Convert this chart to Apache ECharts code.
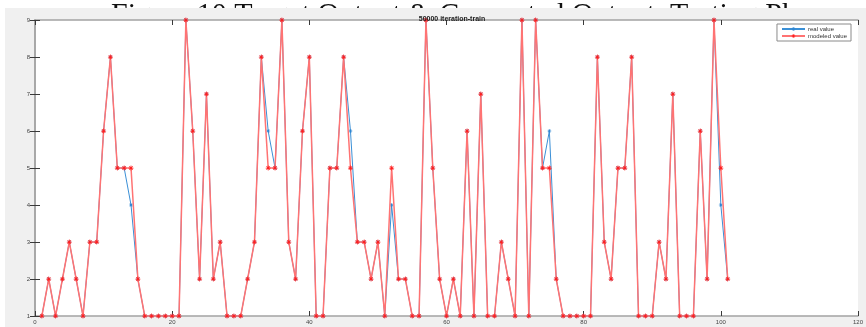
<!DOCTYPE html>
<html>
<head>
<meta charset="utf-8">
<script src="https://cdn.jsdelivr.net/npm/echarts@6/dist/echarts.min.js"></script>
<style>
  html, body { margin: 0; padding: 0; background: #fff; }
  #chart { width: 866px; height: 327px; }
</style>
</head>
<body>
<div id="chart"></div>
<script>
// sample index (x) for every point
const sampleIdx = [
  1, 2, 3, 4, 5, 6, 7, 8, 9, 10,
  11, 12, 13, 14, 15, 16, 17, 18, 19, 20,
  21, 22, 23, 24, 25, 26, 27, 28, 29, 30,
  31, 32, 33, 34, 35, 36, 37, 38, 39, 40,
  41, 42, 43, 44, 45, 46, 47, 48, 49, 50,
  51, 52, 53, 54, 55, 56, 57, 58, 59, 60,
  61, 62, 63, 64, 65, 66, 67, 68, 69, 70,
  71, 72, 73, 74, 75, 76, 77, 78, 79, 80,
  81, 82, 83, 84, 85, 86, 87, 88, 89, 90,
  91, 92, 93, 94, 95, 96, 97, 98, 99, 100,
  101
];

const realValue = [
  1, 2, 1, 2, 3, 2, 1, 3, 3, 6,
  8, 5, 5, 4, 2, 1, 1, 1, 1, 1,
  1, 9, 6, 2, 7, 2, 3, 1, 1, 1,
  2, 3, 8, 6, 5, 9, 3, 2, 6, 8,
  1, 1, 5, 5, 8, 6, 3, 3, 2, 3,
  1, 4, 2, 2, 1, 1, 9, 5, 2, 1,
  2, 1, 6, 1, 7, 1, 1, 3, 2, 1,
  9, 1, 9, 5, 6, 2, 1, 1, 1, 1,
  1, 8, 3, 2, 5, 5, 8, 1, 1, 1,
  3, 2, 7, 1, 1, 1, 6, 2, 9, 4,
  2
];

const modeledValue = [
  1, 2, 1, 2, 3, 2, 1, 3, 3, 6,
  8, 5, 5, 5, 2, 1, 1, 1, 1, 1,
  1, 9, 6, 2, 7, 2, 3, 1, 1, 1,
  2, 3, 8, 5, 5, 9, 3, 2, 6, 8,
  1, 1, 5, 5, 8, 5, 3, 3, 2, 3,
  1, 5, 2, 2, 1, 1, 9, 5, 2, 1,
  2, 1, 6, 1, 7, 1, 1, 3, 2, 1,
  9, 1, 9, 5, 5, 2, 1, 1, 1, 1,
  1, 8, 3, 2, 5, 5, 8, 1, 1, 1,
  3, 2, 7, 1, 1, 1, 6, 2, 9, 5,
  2
];

const seriesNames = ['real value', 'modeled value'];
const chartTitle = '50000 iteration-train';
const caption = 'Figure 10 Target Output & Computed Output, Testing Phase';

// matlab style '*' marker
const star = 'path://M-0.15,-1L0.15,-1L0.15,1L-0.15,1Z M-1,-0.15L1,-0.15L1,0.15L-1,0.15Z ' +
  'M-0.594,-0.806L0.806,0.594L0.594,0.806L-0.806,-0.594Z M-0.806,0.594L0.594,-0.806L0.806,-0.594L-0.594,0.806Z';

const pair = (ys) => sampleIdx.map((x, i) => [x, ys[i]]);

const frame = { show: true, lineStyle: { color: '#a3a3a3', width: 1.5 } };
const tick = { show: true, inside: true, length: 5, lineStyle: { color: '#3a3a3a', width: 1 } };
const lbl = { fontFamily: 'Liberation Sans, Arial, sans-serif', fontSize: 6, color: '#444' };

const chart = echarts.init(document.getElementById('chart'), null, { renderer: 'canvas' });

chart.setOption({
  animation: false,
  backgroundColor: '#fff',
  title: {
    text: chartTitle,
    left: 447, top: 11, textAlign: 'center',
    textStyle: { fontFamily: 'Liberation Sans, Arial, sans-serif', fontSize: 7, fontWeight: 'bold', color: '#222' },
  },
  graphic: [
    // caption of the page, mostly hidden behind the figure
    {
      type: 'text', left: 111, top: 0, z: -20, silent: true,
      style: { text: caption, font: '30px "Liberation Serif", "Times New Roman", serif', fill: '#111' },
    },
    // matlab figure background
    {
      type: 'rect', z: -10, silent: true,
      shape: { x: 5, y: 8, width: 861, height: 319 },
      style: { fill: '#f0f0f0' },
    },
  ],
  legend: {
    orient: 'vertical',
    right: 15, top: 24,
    itemWidth: 23, itemHeight: 5, itemGap: 1,
    padding: [2, 4, 2, 4],
    backgroundColor: '#fff',
    borderColor: '#8a8a8a', borderWidth: 1,
    textStyle: { fontFamily: 'Liberation Sans, Arial, sans-serif', fontSize: 6, color: '#333', padding: [0, 0, 0, -2] },
    data: seriesNames,
  },
  grid: {
    left: 35, right: 7, top: 20, bottom: 11,
    show: true, backgroundColor: '#fff', borderWidth: 0,
  },
  xAxis: [
    {
      type: 'value', min: 0, max: 120, interval: 20, position: 'bottom',
      axisLine: frame, axisTick: tick, splitLine: { show: false },
      axisLabel: { ...lbl, margin: 3 },
    },
    {
      type: 'value', min: 0, max: 120, interval: 20, position: 'top',
      axisLine: frame, axisTick: tick, splitLine: { show: false },
      axisLabel: { show: false },
    },
  ],
  yAxis: [
    {
      type: 'value', min: 1, max: 9, interval: 1, position: 'left',
      axisLine: frame, axisTick: tick, splitLine: { show: false },
      axisLabel: { ...lbl, margin: 5 },
    },
    {
      type: 'value', min: 1, max: 9, interval: 1, position: 'right',
      axisLine: frame, axisTick: tick, splitLine: { show: false },
      axisLabel: { show: false },
    },
  ],
  series: [
    {
      name: seriesNames[0],
      type: 'line',
      data: pair(realValue),
      symbol: star, symbolSize: 4,
      itemStyle: { color: '#2f86d2' },
      lineStyle: { color: '#3a8fd6', width: 1 },
      z: 2,
    },
    {
      name: seriesNames[1],
      type: 'line',
      data: pair(modeledValue),
      symbol: star, symbolSize: 5,
      itemStyle: { color: '#ff2020' },
      lineStyle: { color: '#ff7373', width: 1.5 },
      z: 3,
    },
  ],
});
</script>
</body>
</html>
